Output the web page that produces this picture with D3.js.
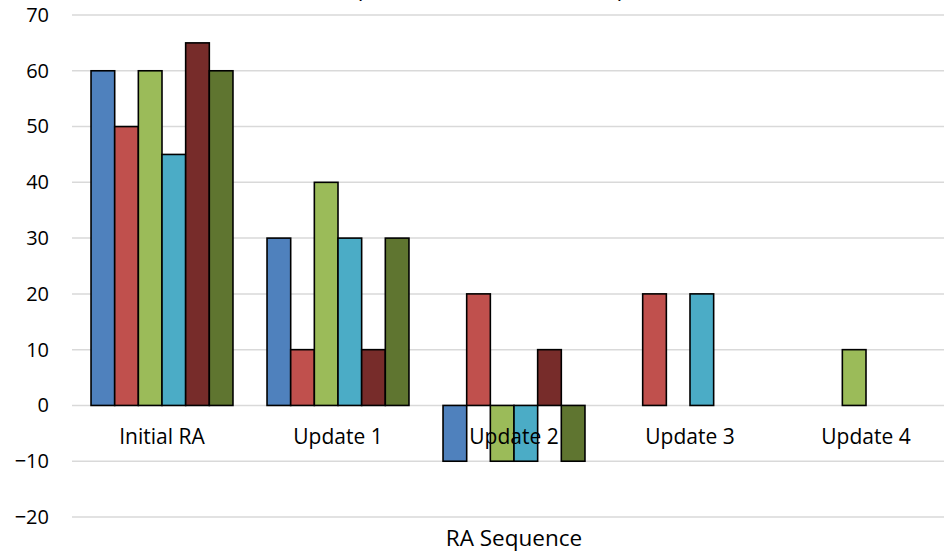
<!DOCTYPE html>
<html>
<head>
<meta charset="utf-8">
<script src="https://cdn.jsdelivr.net/npm/d3@7/dist/d3.min.js"></script>
<style>
  html, body { margin: 0; padding: 0; background: #fff; }
  svg { display: block; font-family: "Open Sans", sans-serif; }
</style>
</head>
<body>
<svg id="chart" width="944" height="553"></svg>
<script>
// Update rounds along the x axis
const categories = ["Initial RA", "Update 1", "Update 2", "Update 3", "Update 4"];
// One value array per series, in category order
const seriesA = [60, 30, -10, 0, 0];
const seriesB = [50, 10, 20, 20, 0];
const seriesC = [60, 40, -10, 0, 10];
const seriesD = [45, 30, -10, 20, 0];
const seriesE = [65, 10, 10, 0, 0];
const seriesF = [60, 30, -10, 0, 0];
const seriesColors = ["#4F81BD", "#C0504D", "#9BBB59", "#4BACC6", "#772C2A", "#5F7530"];
const yTicks = [-20, -10, 0, 10, 20, 30, 40, 50, 60, 70];
const chartTitle = "(Normalized Values in Percent)";
const xTitle = "RA Sequence";

const series = [seriesA, seriesB, seriesC, seriesD, seriesE, seriesF];

const svg = d3.select("#chart");
const W = 944;
const plotLeft = 74, plotRight = 954, plotTop = 15, plotBottom = 517;
const FONT = "'Open Sans', sans-serif";

const y = d3.scaleLinear().domain([-20, 70]).range([plotBottom, plotTop]);
const x0 = d3.scaleBand().domain(categories).range([plotLeft, plotRight]).paddingInner(0).paddingOuter(0);
const x1 = d3.scaleBand().domain(d3.range(series.length)).range([0, x0.bandwidth()]).paddingOuter(0.72).paddingInner(0);

// Horizontal gridlines
svg.append("g").selectAll("line").data(yTicks).join("line")
  .attr("x1", 72).attr("x2", W)
  .attr("y1", d => y(d)).attr("y2", d => y(d))
  .attr("stroke", "#d9d9d9").attr("stroke-width", 1.5);

// Y tick labels
const yAxis = d3.axisLeft(y).tickValues(yTicks).tickSize(0).tickPadding(0);
const yG = svg.append("g").attr("transform", "translate(49,0)").call(yAxis);
yG.select(".domain").remove();
yG.selectAll("text").attr("font-size", 20).attr("fill", "#000").attr("font-family", FONT);

// Bars
const cells = [];
categories.forEach((c, ci) => series.forEach((s, si) => {
  if (s[ci] !== 0) cells.push({ cat: c, si, v: s[ci] });
}));
svg.append("g").selectAll("rect").data(cells).join("rect")
  .attr("x", d => x0(d.cat) + x1(d.si))
  .attr("width", x1.bandwidth())
  .attr("y", d => y(Math.max(0, d.v)))
  .attr("height", d => Math.abs(y(d.v) - y(0)))
  .attr("fill", d => seriesColors[d.si])
  .attr("stroke", "#000").attr("stroke-width", 1.6);

// Category labels
const xAxis = d3.axisBottom(x0).tickSize(0).tickPadding(0);
const xG = svg.append("g").attr("transform", `translate(0,${y(0) + 38.5})`).call(xAxis);
xG.select(".domain").remove();
xG.selectAll("text").attr("font-size", 21).attr("fill", "#000").attr("dy", 0).attr("font-family", FONT);

// Axis title
svg.append("text").attr("x", 514).attr("y", 546).attr("text-anchor", "middle")
  .attr("font-size", 22.5).attr("fill", "#000").text(xTitle);

// Chart title (runs off the top edge)
svg.append("text").attr("x", 490).attr("y", -2).attr("text-anchor", "middle")
  .attr("font-size", 22).attr("fill", "#000")
  .attr("textLength", 268).attr("lengthAdjust", "spacing")
  .text(chartTitle);
</script>
</body>
</html>
